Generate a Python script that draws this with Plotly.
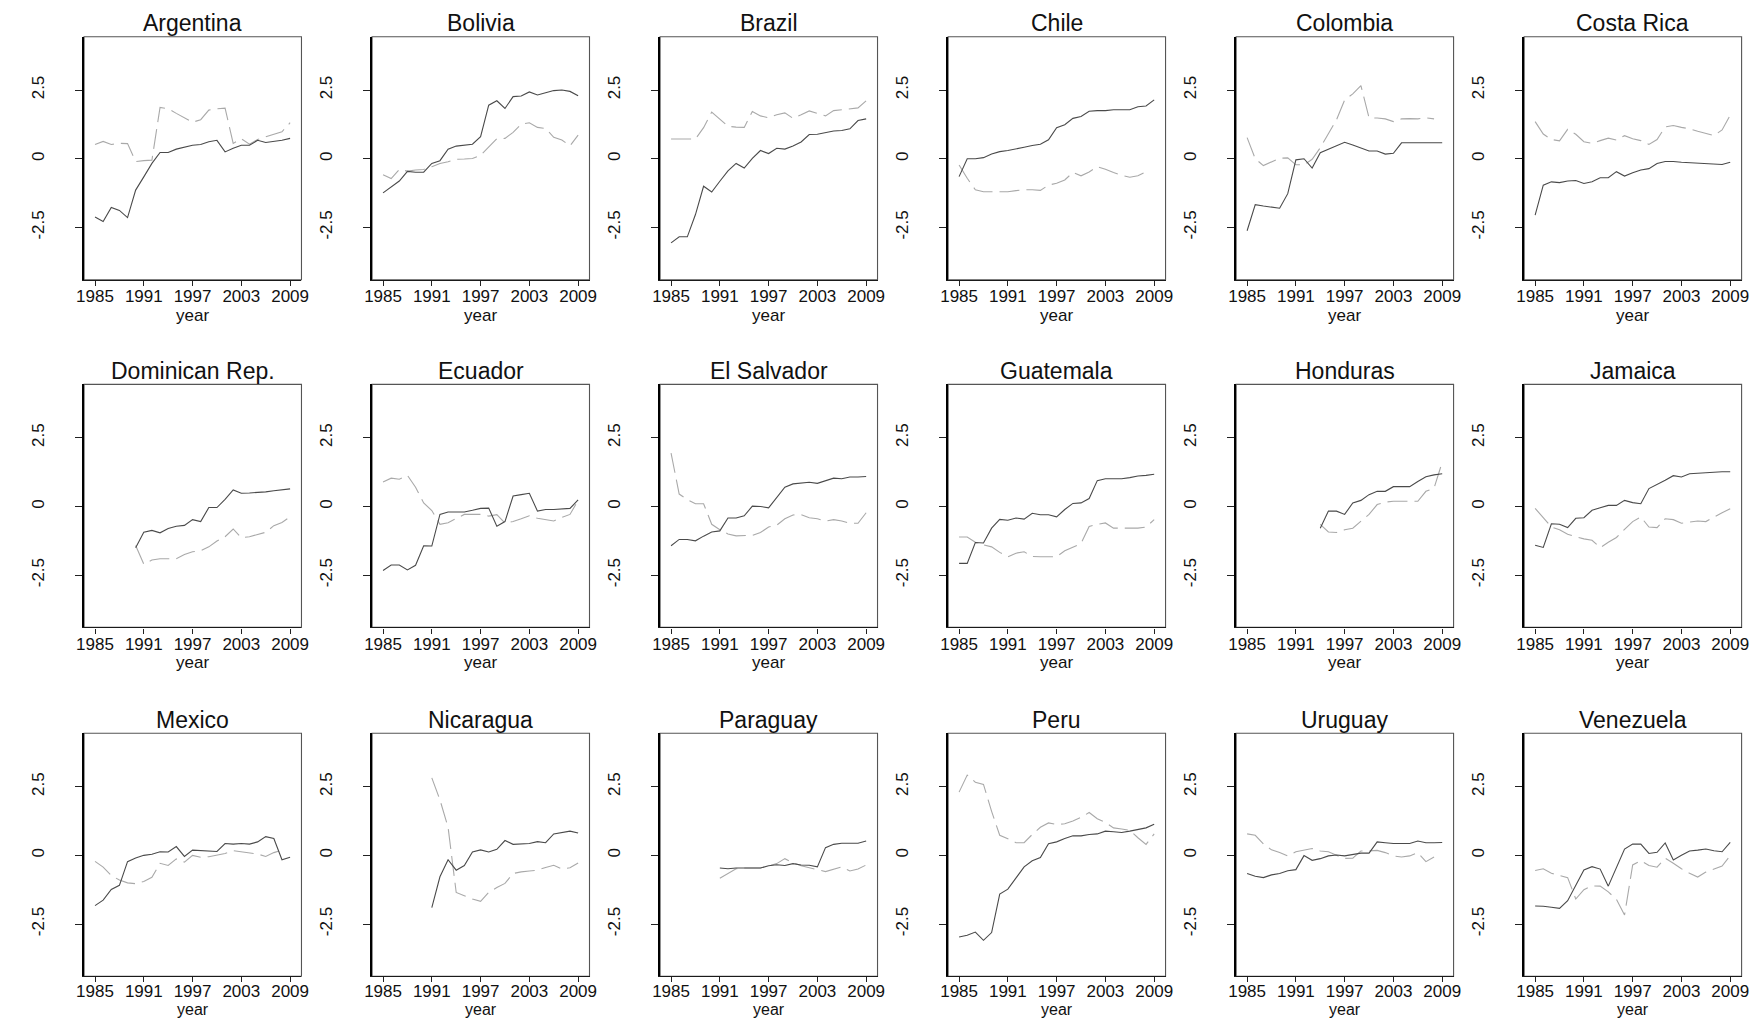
import plotly.graph_objects as go

# Years covered by every panel
years = list(range(1985, 2010))

# Country order, row by row
countries = [
    "Argentina", "Bolivia", "Brazil", "Chile", "Colombia", "Costa Rica",
    "Dominican Rep.", "Ecuador", "El Salvador", "Guatemala", "Honduras", "Jamaica",
    "Mexico", "Nicaragua", "Paraguay", "Peru", "Uruguay", "Venezuela",
]

N = None

# Series 1 (solid) and series 2 (dashed), one value per year 1985-2009
argentina_s1 = [-2.12, -2.28, -1.77, -1.88, -2.14, -1.14, -0.66, -0.17, 0.23, 0.23, 0.35, 0.42, 0.49, 0.52, 0.62, 0.67, 0.25, 0.38, 0.49, 0.49, 0.67, 0.59, 0.62, 0.67, 0.74]
argentina_s2 = [0.52, 0.63, 0.52, 0.56, 0.55, -0.10, -0.07, -0.05, 1.87, 1.82, 1.65, 1.50, 1.33, 1.42, 1.77, 1.82, 1.84, 0.56, 0.73, 0.53, 0.70, 0.80, 0.88, 0.98, 1.31]

bolivia_s1 = [-1.24, -1.02, -0.81, -0.46, -0.49, -0.49, -0.17, -0.07, 0.35, 0.46, 0.50, 0.53, 0.80, 1.95, 2.11, 1.83, 2.26, 2.28, 2.43, 2.32, 2.40, 2.48, 2.50, 2.45, 2.29]
bolivia_s2 = [-0.58, -0.72, -0.39, -0.45, -0.41, -0.39, -0.29, -0.17, -0.11, -0.02, -0.01, 0.01, 0.12, 0.44, 0.73, 0.74, 0.96, 1.26, 1.31, 1.14, 1.10, 0.78, 0.68, 0.47, 0.86]

brazil_s1 = [-3.06, -2.84, -2.84, -2.03, -1.00, -1.21, -0.82, -0.44, -0.17, -0.34, 0.01, 0.30, 0.19, 0.38, 0.35, 0.46, 0.61, 0.88, 0.89, 0.95, 1.01, 1.03, 1.09, 1.39, 1.45]
brazil_s2 = [0.72, 0.73, 0.72, 0.72, 1.13, 1.70, 1.45, 1.18, 1.15, 1.14, 1.72, 1.56, 1.49, 1.60, 1.67, 1.47, 1.60, 1.74, 1.65, 1.56, 1.75, 1.78, 1.80, 1.85, 2.11]

chile_s1 = [-0.65, 0.00, 0.00, 0.04, 0.17, 0.26, 0.30, 0.37, 0.42, 0.48, 0.53, 0.69, 1.13, 1.24, 1.47, 1.54, 1.73, 1.75, 1.75, 1.78, 1.78, 1.78, 1.89, 1.92, 2.14]
chile_s2 = [-0.23, -0.71, -1.13, -1.20, -1.20, -1.20, -1.20, -1.16, -1.13, -1.13, -1.15, -0.96, -0.89, -0.77, -0.50, -0.62, -0.48, -0.29, -0.38, -0.50, -0.60, -0.67, -0.62, -0.47, N]

colombia_s1 = [-2.62, -1.67, -1.72, -1.76, -1.80, -1.27, -0.04, 0.00, -0.34, 0.22, 0.34, 0.46, 0.60, 0.50, 0.38, 0.28, 0.28, 0.17, 0.20, 0.58, 0.58, 0.58, 0.58, 0.58, 0.58]
colombia_s2 = [0.77, 0.00, -0.25, -0.12, 0.02, 0.03, -0.22, -0.22, -0.02, 0.40, 0.90, 1.42, 2.14, 2.36, 2.66, 1.49, 1.48, 1.45, 1.35, 1.45, 1.46, 1.45, 1.49, 1.45, N]

costa_rica_s1 = [-2.05, -0.96, -0.84, -0.87, -0.81, -0.79, -0.90, -0.84, -0.69, -0.69, -0.47, -0.63, -0.51, -0.41, -0.36, -0.17, -0.10, -0.10, -0.13, -0.15, -0.17, -0.19, -0.21, -0.21, -0.13]
costa_rica_s2 = [1.35, 0.90, 0.70, 0.65, 1.07, 0.89, 0.62, 0.56, 0.66, 0.75, 0.68, 0.84, 0.73, 0.66, 0.52, 0.70, 1.16, 1.21, 1.14, 1.09, 1.00, 0.93, 0.84, 1.05, 1.59]

dominican_rep_s1 = [N, N, N, N, N, -1.50, -0.94, -0.87, -0.96, -0.80, -0.72, -0.69, -0.48, -0.55, -0.04, -0.04, 0.26, 0.60, 0.48, 0.49, 0.50, 0.53, 0.57, 0.60, 0.64]
dominican_rep_s2 = [N, N, N, N, N, -1.42, -2.10, -1.95, -1.90, -1.90, -1.90, -1.75, -1.65, -1.61, -1.47, -1.26, -1.10, -0.82, -1.14, -1.10, -1.02, -0.94, -0.70, -0.58, -0.38]

ecuador_s1 = [-2.33, -2.13, -2.13, -2.31, -2.14, -1.43, -1.44, -0.29, -0.20, -0.20, -0.20, -0.14, -0.07, -0.06, -0.72, -0.55, 0.38, 0.43, 0.48, -0.17, -0.11, -0.11, -0.08, -0.07, 0.24]
ecuador_s2 = [0.89, 1.03, 0.99, 1.13, 0.70, 0.13, -0.15, -0.65, -0.59, -0.45, -0.29, -0.29, -0.29, -0.35, -0.30, -0.60, -0.55, -0.45, -0.34, -0.43, -0.48, -0.53, -0.40, -0.29, 0.22]

el_salvador_s1 = [-1.43, -1.20, -1.20, -1.25, -1.08, -0.93, -0.89, -0.42, -0.42, -0.34, 0.01, 0.00, -0.05, 0.34, 0.70, 0.82, 0.84, 0.88, 0.84, 0.94, 1.03, 1.01, 1.07, 1.07, 1.09]
el_salvador_s2 = [1.94, 0.45, 0.25, 0.10, 0.10, -0.65, -0.85, -1.00, -1.07, -1.07, -1.05, -0.95, -0.75, -0.68, -0.45, -0.31, -0.30, -0.41, -0.45, -0.53, -0.48, -0.53, -0.61, -0.61, -0.23]

guatemala_s1 = [-2.07, -2.07, -1.31, -1.33, -0.79, -0.47, -0.50, -0.42, -0.46, -0.25, -0.30, -0.30, -0.38, -0.11, 0.11, 0.13, 0.29, 0.94, 1.01, 1.01, 1.01, 1.05, 1.11, 1.13, 1.17]
guatemala_s2 = [-1.11, -1.11, -1.30, -1.40, -1.47, -1.67, -1.83, -1.70, -1.65, -1.82, -1.83, -1.83, -1.83, -1.61, -1.47, -1.35, -0.73, -0.65, -0.60, -0.79, -0.79, -0.79, -0.79, -0.75, -0.48]

honduras_s1 = [N, N, N, N, N, N, N, N, N, -0.79, -0.17, -0.17, -0.29, 0.13, 0.22, 0.43, 0.55, 0.55, 0.72, 0.72, 0.72, 0.91, 1.08, 1.15, 1.19]
honduras_s2 = [N, N, N, N, N, N, N, N, N, -0.65, -0.93, -0.95, -0.85, -0.79, -0.55, -0.29, 0.07, 0.16, 0.19, 0.19, 0.19, 0.19, 0.55, 0.67, 1.61]

jamaica_s1 = [-1.41, -1.49, -0.63, -0.65, -0.77, -0.43, -0.41, -0.14, -0.05, 0.04, 0.04, 0.22, 0.14, 0.10, 0.65, 0.79, 0.95, 1.12, 1.07, 1.19, 1.21, 1.21, 1.24, 1.26, 1.26]
jamaica_s2 = [-0.07, -0.41, -0.75, -0.85, -1.01, -1.10, -1.18, -1.23, -1.50, -1.30, -1.13, -0.83, -0.55, -0.38, -0.75, -0.77, -0.45, -0.48, -0.61, -0.57, -0.53, -0.55, -0.38, -0.23, -0.08]

mexico_s1 = [-1.83, -1.63, -1.24, -1.09, -0.23, -0.10, 0.00, 0.04, 0.13, 0.12, 0.32, -0.04, 0.19, 0.17, 0.14, 0.14, 0.43, 0.41, 0.43, 0.41, 0.49, 0.68, 0.61, -0.16, -0.07]
mexico_s2 = [-0.22, -0.43, -0.73, -0.90, -1.00, -1.03, -0.95, -0.80, -0.29, -0.37, -0.13, -0.25, 0.00, -0.07, -0.05, 0.00, 0.07, 0.17, 0.13, 0.08, 0.05, -0.04, 0.10, 0.19, N]

nicaragua_s1 = [N, N, N, N, N, N, -1.90, -0.78, -0.16, -0.54, -0.37, 0.12, 0.20, 0.12, 0.22, 0.54, 0.40, 0.42, 0.43, 0.50, 0.46, 0.78, 0.84, 0.88, 0.81]
nicaragua_s2 = [N, N, N, N, N, N, 2.82, 2.02, 1.02, -1.35, -1.47, -1.59, -1.67, -1.35, -1.17, -1.02, -0.66, -0.60, -0.57, -0.54, -0.44, -0.36, -0.50, -0.45, -0.28]

paraguay_s1 = [N, N, N, N, N, N, -0.46, -0.49, -0.46, -0.46, -0.46, -0.46, -0.38, -0.34, -0.37, -0.30, -0.35, -0.36, -0.42, 0.28, 0.40, 0.44, 0.44, 0.44, 0.52]
paraguay_s2 = [N, N, N, N, N, N, -0.83, -0.65, -0.49, -0.46, -0.46, -0.46, -0.38, -0.30, -0.12, -0.27, -0.38, -0.44, -0.52, -0.59, -0.50, -0.42, -0.57, -0.50, -0.35]

peru_s1 = [-2.97, -2.91, -2.79, -3.09, -2.81, -1.41, -1.23, -0.81, -0.42, -0.20, -0.08, 0.42, 0.49, 0.61, 0.71, 0.71, 0.76, 0.78, 0.88, 0.86, 0.83, 0.88, 0.94, 1.00, 1.13]
peru_s2 = [2.30, 2.92, 2.66, 2.58, 1.60, 0.73, 0.60, 0.46, 0.46, 0.76, 1.02, 1.18, 1.12, 1.15, 1.25, 1.38, 1.56, 1.33, 1.20, 1.00, 0.96, 0.91, 0.64, 0.40, 0.78]

uruguay_s1 = [-0.66, -0.76, -0.81, -0.71, -0.66, -0.56, -0.52, -0.01, -0.18, -0.12, -0.02, 0.01, -0.02, 0.04, 0.08, 0.08, 0.49, 0.46, 0.43, 0.43, 0.43, 0.52, 0.46, 0.46, 0.47]
uruguay_s2 = [0.78, 0.73, 0.42, 0.20, 0.10, -0.02, 0.13, 0.20, 0.25, 0.16, 0.13, 0.00, -0.11, -0.10, 0.16, 0.16, 0.18, 0.10, -0.02, -0.06, -0.02, 0.10, -0.23, -0.06, N]

venezuela_s1 = [-1.84, -1.85, -1.89, -1.93, -1.65, -1.10, -0.53, -0.41, -0.50, -1.12, -0.43, 0.23, 0.41, 0.41, 0.07, 0.11, 0.45, -0.17, 0.00, 0.16, 0.19, 0.23, 0.17, 0.13, 0.47]
venezuela_s2 = [-0.55, -0.49, -0.65, -0.73, -0.81, -1.59, -1.25, -1.11, -1.12, -1.33, -1.60, -2.17, -0.35, -0.19, -0.37, -0.43, -0.10, -0.29, -0.49, -0.65, -0.79, -0.61, -0.49, -0.39, -0.01]

series = {
    "Argentina": (argentina_s1, argentina_s2),
    "Bolivia": (bolivia_s1, bolivia_s2),
    "Brazil": (brazil_s1, brazil_s2),
    "Chile": (chile_s1, chile_s2),
    "Colombia": (colombia_s1, colombia_s2),
    "Costa Rica": (costa_rica_s1, costa_rica_s2),
    "Dominican Rep.": (dominican_rep_s1, dominican_rep_s2),
    "Ecuador": (ecuador_s1, ecuador_s2),
    "El Salvador": (el_salvador_s1, el_salvador_s2),
    "Guatemala": (guatemala_s1, guatemala_s2),
    "Honduras": (honduras_s1, honduras_s2),
    "Jamaica": (jamaica_s1, jamaica_s2),
    "Mexico": (mexico_s1, mexico_s2),
    "Nicaragua": (nicaragua_s1, nicaragua_s2),
    "Paraguay": (paraguay_s1, paraguay_s2),
    "Peru": (peru_s1, peru_s2),
    "Uruguay": (uruguay_s1, uruguay_s2),
    "Venezuela": (venezuela_s1, venezuela_s2),
}

x_ticks = [1985, 1991, 1997, 2003, 2009]
y_ticks = [-2.5, 0, 2.5]
y_tick_text = ["-2.5", "0", "2.5"]
x_title = "year"

# Page geometry (pixels)
W, H = 1760, 1019
PANEL_W, PANEL_H = 219.3, 243.0
COL_LEFT = [76.7 + 290.5 * c for c in range(6)]
ROW_TOP = [36.7, 384.4, 733.3]

FONT = "Liberation Sans, Arial, Helvetica, sans-serif"
TEXT = "#111"

fig = go.Figure()
annotations = []
shapes = []

for i, name in enumerate(countries):
    r, c = divmod(i, 6)
    n = i + 1
    xa = "x" if n == 1 else f"x{n}"
    ya = "y" if n == 1 else f"y{n}"
    s1, s2 = series[name]
    last_row = r == 2

    fig.add_trace(go.Scatter(
        x=years, y=s2, mode="lines", xaxis=xa, yaxis=ya, showlegend=False,
        line=dict(color="#a9a9a9", width=1.1, dash="20px,7px"),
    ))
    fig.add_trace(go.Scatter(
        x=years, y=s1, mode="lines", xaxis=xa, yaxis=ya, showlegend=False,
        line=dict(color="#4a4a4a", width=1.1),
    ))

    left = COL_LEFT[c]
    top = ROW_TOP[r]
    bottom = top + PANEL_H
    xdom = [left / W, (left + PANEL_W) / W]
    ydom = [1 - bottom / H, 1 - top / H]

    xkey = "xaxis" if n == 1 else f"xaxis{n}"
    ykey = "yaxis" if n == 1 else f"yaxis{n}"
    fig.layout[xkey] = dict(
        domain=xdom, anchor=ya, range=[1983.65, 2010.4],
        tickmode="array", tickvals=x_ticks,
        ticks="outside", ticklen=5, tickwidth=1, tickcolor="#222",
        ticklabelstandoff=-6 if last_row else -4,
        showline=True, linecolor="#1a1a1a", linewidth=1.3,
        showgrid=False, zeroline=False,
        tickfont=dict(family=FONT, size=17, color=TEXT),
    )
    fig.layout[ykey] = dict(
        domain=ydom, anchor=xa, range=[-4.4, 4.44],
        tickmode="array", tickvals=y_ticks, ticktext=y_tick_text,
        ticks="outside", ticklen=7, tickwidth=1, tickcolor="#222",
        tickangle=-90, ticklabelstandoff=24,
        showline=True, linecolor="#000", linewidth=1.8,
        showgrid=False, zeroline=False,
        tickfont=dict(family=FONT, size=17, color=TEXT),
    )

    # Plot-region outline (top and right edges are lighter than the axes)
    shapes.append(dict(
        type="rect", xref=f"{xa} domain", yref=f"{ya} domain",
        x0=0, x1=1, y0=0, y1=1, line=dict(color="#555", width=1.1),
        layer="below",
    ))

    annotations.append(dict(
        text=name, xref="paper", yref="paper",
        x=(left + PANEL_W / 2) / W, y=1 - (top - 13.5) / H,
        xanchor="center", yanchor="middle", showarrow=False,
        font=dict(family=FONT, size=23, color=TEXT),
    ))
    # Axis title below the tick labels; the bottom row sits flush with the page edge
    if last_row:
        annotations.append(dict(
            text=x_title, xref="paper", yref="paper",
            x=(left + PANEL_W / 2) / W, y=0,
            xanchor="center", yanchor="bottom", showarrow=False, borderpad=0,
            font=dict(family=FONT, size=16, color=TEXT),
        ))
    else:
        annotations.append(dict(
            text=x_title, xref="paper", yref="paper",
            x=(left + PANEL_W / 2) / W, y=1 - (bottom + 35.5) / H,
            xanchor="center", yanchor="middle", showarrow=False, borderpad=0,
            font=dict(family=FONT, size=17, color=TEXT),
        ))

fig.update_layout(
    width=W, height=H,
    margin=dict(l=0, r=0, t=0, b=0),
    paper_bgcolor="white", plot_bgcolor="white",
    annotations=annotations,
    shapes=shapes,
)

fig.write_html("out.html")
